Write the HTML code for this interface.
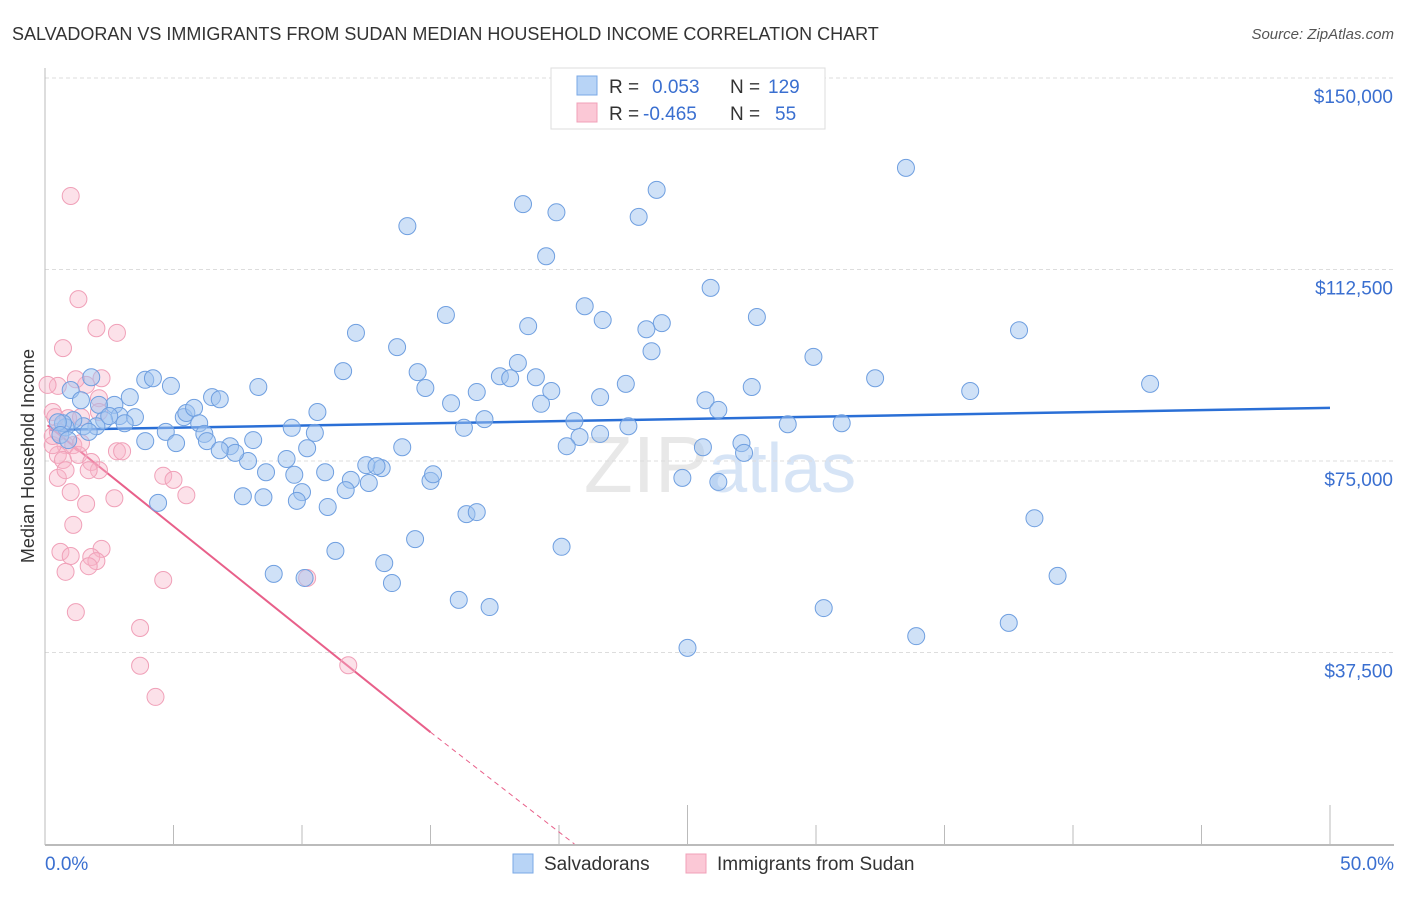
<!DOCTYPE html>
<html><head><meta charset="utf-8"><style>
body{margin:0;background:#fff;font-family:"Liberation Sans",sans-serif;}
svg text{font-family:"Liberation Sans",sans-serif;}
</style></head><body>
<svg id="chart" width="1406" height="892" xmlns="http://www.w3.org/2000/svg">
<text x="12" y="40" font-size="18" fill="#333">SALVADORAN VS IMMIGRANTS FROM SUDAN MEDIAN HOUSEHOLD INCOME CORRELATION CHART</text>
<text x="1394" y="39" font-size="15" fill="#555" text-anchor="end" font-style="italic">Source: ZipAtlas.com</text>
<text transform="translate(34,456) rotate(-90)" font-size="18" fill="#333" text-anchor="middle">Median Household Income</text>
<text x="720" y="492" font-size="80" fill="#e8e8e8" text-anchor="middle" font-family="Liberation Serif">ZIP<tspan fill="#d6e4f6" font-family="Liberation Sans" font-size="70">atlas</tspan></text>
<g id="grid"></g><g id="axes"></g><g id="trends"></g><g id="pts"></g>
<g>
<rect x="551" y="68" width="274" height="61" fill="#fff" stroke="#ddd"/>
<rect x="577" y="76" width="20" height="19" fill="#b8d4f6" stroke="#7aa8e6"/>
<rect x="577" y="103" width="20" height="19" fill="#fbc8d6" stroke="#f0a0b8"/>
<text x="609" y="93" font-size="19" fill="#333">R = <tspan fill="#3a6fd0" x="652">0.053</tspan><tspan fill="#333" x="730">N =</tspan><tspan fill="#3a6fd0" x="768">129</tspan></text>
<text x="609" y="120" font-size="19" fill="#333">R = <tspan fill="#3a6fd0" x="643">-0.465</tspan><tspan fill="#333" x="730">N =</tspan><tspan fill="#3a6fd0" x="775">55</tspan></text>
</g>
<g>
<rect x="513" y="854" width="20" height="19" fill="#b8d4f6" stroke="#7aa8e6"/>
<text x="544" y="870" font-size="19" fill="#333">Salvadorans</text>
<rect x="686" y="854" width="20" height="19" fill="#fbc8d6" stroke="#f0a0b8"/>
<text x="717" y="870" font-size="19" fill="#333">Immigrants from Sudan</text>
</g>
</svg>
<script>
const yTicks=[37500,75000,112500,150000];
const yTickLabels=["$37,500","$75,000","$112,500","$150,000"];
const xTickLabels=["0.0%","50.0%"];
const blueX=[33.5,23.8,18.6,19.9,23.1,14.1,19.5,25.9,21.0,15.6,21.7,27.7,18.8,24.0,23.4,12.1,37.9,13.7,23.6,29.9,11.6,18.4,14.5,17.7,18.1,19.1,43.0,32.3,22.6,27.5,14.8,16.8,19.7,36.0,21.6,15.8,19.3,25.7,26.2,10.6,17.1,20.6,16.3,22.7,28.9,31.0,10.5,9.6,21.6,20.8,20.3,13.9,10.2,27.1,25.6,27.2,9.4,8.6,9.7,7.9,10.9,13.1,12.5,12.9,15.0,15.1,11.9,12.6,11.7,24.8,26.2,10.0,8.5,7.7,9.8,11.0,38.5,16.4,16.8,14.4,11.3,13.2,20.1,8.9,10.1,13.5,16.1,17.3,30.3,33.9,37.5,39.4,25.0,4.4,1.8,3.9,4.9,3.3,4.2,2.7,2.9,2.3,2.0,1.5,1.1,0.8,0.7,0.5,1.0,1.4,2.1,3.5,3.9,4.7,5.1,5.4,5.5,5.8,6.0,6.2,6.3,6.5,6.8,7.2,7.4,8.3,8.1,6.8,3.1,2.5,1.7,0.6,0.9];
const blueY=[132.4,128.1,125.3,123.7,122.8,121.0,115.1,108.9,105.3,103.6,102.6,103.2,101.4,102.0,100.8,100.1,100.6,97.3,96.5,95.4,92.6,94.2,92.4,91.6,91.2,91.4,90.1,91.2,90.1,89.5,89.3,88.5,88.7,88.7,87.5,86.3,86.2,86.9,85.0,84.6,83.2,82.8,81.5,81.8,82.2,82.4,80.5,81.5,80.3,79.7,77.9,77.7,77.5,78.5,77.7,76.6,75.4,72.8,72.3,75.0,72.8,73.6,74.2,74.0,71.1,72.4,71.3,70.7,69.3,71.7,70.9,68.9,67.9,68.1,67.2,66.0,63.8,64.6,65.0,59.7,57.4,55.0,58.2,52.9,52.1,51.1,47.8,46.4,46.2,40.7,43.3,52.5,38.4,66.8,91.4,90.9,89.7,87.5,91.2,86.0,83.8,83.0,81.8,81.8,83.0,81.6,82.4,82.6,88.9,86.9,86.0,83.6,78.9,80.7,78.5,83.6,84.4,85.4,82.4,80.3,78.9,87.5,87.1,77.9,76.6,89.5,79.1,77.1,82.4,83.8,80.7,80.1,79.1];
const pinkX=[1.0,1.3,2.0,2.8,0.7,0.5,0.1,1.6,2.2,1.2,2.1,0.3,0.4,0.9,1.4,2.1,0.8,1.1,0.5,0.7,1.3,1.8,2.1,2.8,3.0,0.3,4.6,5.0,1.7,0.5,1.0,5.5,2.7,1.6,1.1,0.6,1.0,2.2,1.8,2.0,1.7,0.8,4.6,10.2,1.2,3.7,3.7,11.8,4.3,0.3,0.5,1.4,0.8];
const pinkY=[126.9,106.7,101.0,100.1,97.1,89.7,89.9,89.9,91.2,91.0,87.3,84.6,83.6,83.4,83.6,84.6,78.1,78.1,76.2,75.2,76.2,74.8,73.2,76.9,76.9,78.1,72.1,71.3,73.2,71.7,68.9,68.3,67.7,66.6,62.5,57.2,56.4,57.8,56.2,55.4,54.4,53.3,51.7,52.1,45.4,42.3,34.9,35.0,28.8,79.9,80.7,78.5,73.2];
const blueTrend=[0.2,81.1,50,85.4];
const pinkTrend=[0.1,82.0,15.0,21.9,20.6,0];
const NS="http://www.w3.org/2000/svg";
const X0=45,X1=1330,Y0=844,YTOP=78;
function sx(p){return X0+p/50*(X1-X0);}
function sy(v){return Y0-v/150*(Y0-YTOP);}
function mk(tag,attrs,parent){const e=document.createElementNS(NS,tag);for(const k in attrs)e.setAttribute(k,attrs[k]);parent.appendChild(e);return e;}
const grid=document.getElementById('grid'),axes=document.getElementById('axes'),trends=document.getElementById('trends'),pts=document.getElementById('pts');
yTicks.forEach((t,i)=>{
 const l=mk('line',{x1:X0,x2:1394,y1:sy(t*0.001*1),y2:sy(t*0.001),stroke:'#ddd','stroke-dasharray':'4,3'},grid);
 
 
 const tx=mk('text',{x:1393,y:sy(t*0.001)+25,'font-size':19,fill:'#3a6fd0','text-anchor':'end'},axes);
 tx.textContent=yTickLabels[i];
 
 
});
let a=mk('line',{x1:X0,x2:X0,y1:68,y2:845,stroke:'#bbb'},axes);


a=mk('line',{x1:X0,x2:1394,y1:845,y2:845,stroke:'#bbb','stroke-width':2},axes);


for(let k=1;k<=10;k++){
 const t=mk('line',{x1:sx(k*5),x2:sx(k*5),y1:(k%5==0)?805:825,y2:845,stroke:'#bbb'},axes);
 
 
}
[[0,'start',45],[50,'end',1394]].forEach((d,i)=>{
 const t=mk('text',{x:d[2],y:870,'font-size':19,fill:'#3a6fd0','text-anchor':d[1]},axes);
 t.textContent=xTickLabels[i];
 
 
});
function dots(xs,ys,fill,stroke,name){
 xs.forEach((x,i)=>{
  const c=mk('circle',{cx:sx(x),cy:sy(ys[i]),r:8.5,fill:fill,stroke:stroke,'stroke-width':1},pts);
  
  
 });
}
dots(pinkX,pinkY,'rgba(248,180,200,0.4)','#f0a0b8','sudan-point');
dots(blueX,blueY,'rgba(160,196,240,0.5)','#6f9fe0','salvadoran-point');
let tl=mk('line',{x1:sx(blueTrend[0]),y1:sy(blueTrend[1]),x2:sx(blueTrend[2]),y2:sy(blueTrend[3]),stroke:'#2a6fd6','stroke-width':2.5},trends);


tl=mk('line',{x1:sx(pinkTrend[0]),y1:sy(pinkTrend[1]),x2:sx(pinkTrend[2]),y2:sy(pinkTrend[3]),stroke:'#e8608a','stroke-width':2},trends);


tl=mk('line',{x1:sx(pinkTrend[2]),y1:sy(pinkTrend[3]),x2:sx(pinkTrend[4]),y2:sy(pinkTrend[5]),stroke:'#e8608a','stroke-width':1,'stroke-dasharray':'5,4'},trends);


</script>
</body></html>
